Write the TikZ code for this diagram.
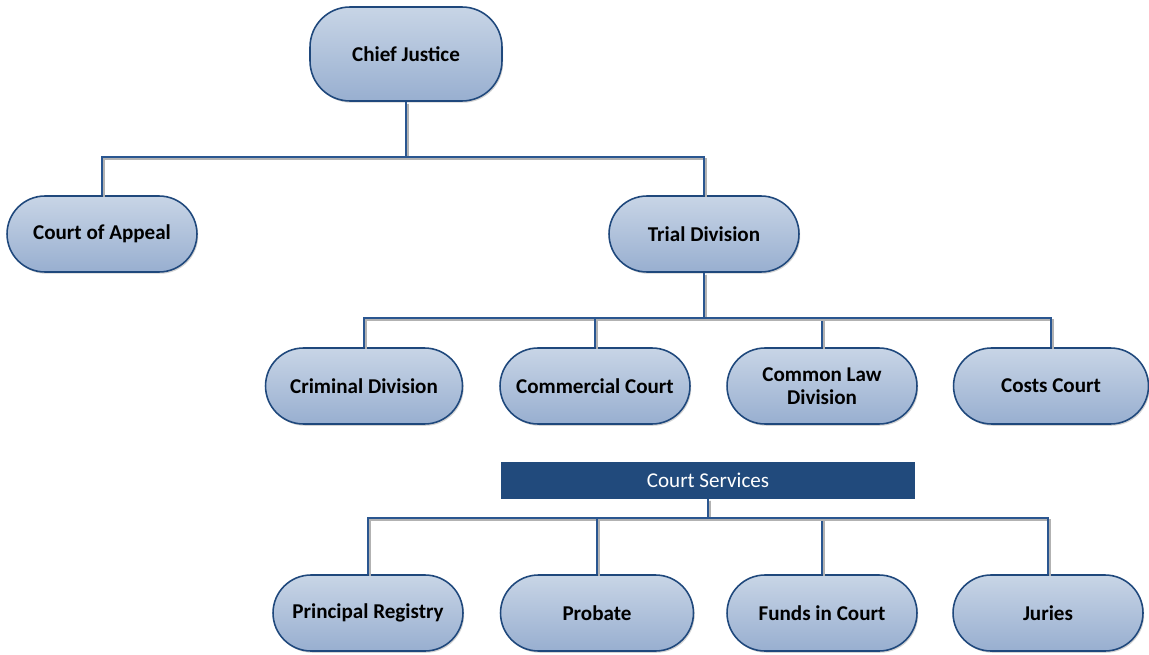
\documentclass[tikz,border=0pt]{standalone}
\usepackage{fontspec}
\setmainfont{Carlito}
\usetikzlibrary{shadows}
\definecolor{edgeblue}{HTML}{1F487C}
\definecolor{linkblue}{HTML}{2A5690}
\definecolor{topfill}{HTML}{C8D5E6}
\definecolor{botfill}{HTML}{98AFD0}
\definecolor{barblue}{HTML}{214A7C}
\tikzset{
  court/.style={draw=edgeblue, line width=0.9pt, top color=topfill, bottom color=botfill,
    rounded corners=0.76cm, minimum width=3.8cm, minimum height=1.52cm, inner sep=0pt,
    align=center, font=\bfseries\fontsize{12}{13}\selectfont,
    drop shadow={shadow xshift=0.7pt, shadow yshift=-1pt, opacity=0.35}},
  services/.style={fill=barblue, text=white, minimum width=8.3cm, minimum height=0.74cm,
    inner sep=0pt, font=\fontsize{12}{13}\selectfont},
  link/.style={draw=linkblue, line width=1.1pt,
    preaction={draw=black!30, line width=1.1pt, transform canvas={shift={(1pt,-1pt)}}}}
}
\begin{document}
\begin{tikzpicture}[x=0.02cm, y=-0.02cm]
    \useasboundingbox (0,0) rectangle (1149,655);
    % top level
    \node[court, minimum width=3.84cm, minimum height=1.88cm, rounded corners=0.8cm] (chief) at (406,54) {Chief Justice};
    \node[court] (appeal) at (102,234) {Court of Appeal};
    \node[court] (trial) at (704,234) {Trial Division};
    % divisions of the trial court
    \node[court, minimum width=3.94cm] (criminal) at (364,386) {Criminal Division};
    \node[court] (commercial) at (595,386) {Commercial Court};
    \node[court] (common) at (822,386) {Common Law\\Division};
    \node[court, minimum width=3.9cm] (costs) at (1051,386) {Costs Court};
    % services
    \node[services] (services) at (708,480) {Court Services};
    \node[court] (registry) at (368,613) {Principal Registry};
    \node[court, minimum width=3.86cm] (probate) at (597,613) {Probate};
    \node[court] (funds) at (822,613) {Funds in Court};
    \node[court] (juries) at (1048,613) {Juries};
    % bus lines
    \coordinate (bus1) at (0,157);
    \coordinate (bus2) at (0,318);
    \coordinate (bus3) at (0,518);
    \draw[link] (chief.south) -- (chief.south |- bus1) -| (appeal.north);
    \draw[link] (chief.south) -- (chief.south |- bus1) -| (trial.north);
    \foreach \n in {criminal, commercial, common, costs}
        \draw[link] (trial.south) -- (trial.south |- bus2) -| (\n.north);
    \foreach \n in {registry, probate, funds, juries}
        \draw[link] (services.south) -- (services.south |- bus3) -| (\n.north);
\end{tikzpicture}
\end{document}
